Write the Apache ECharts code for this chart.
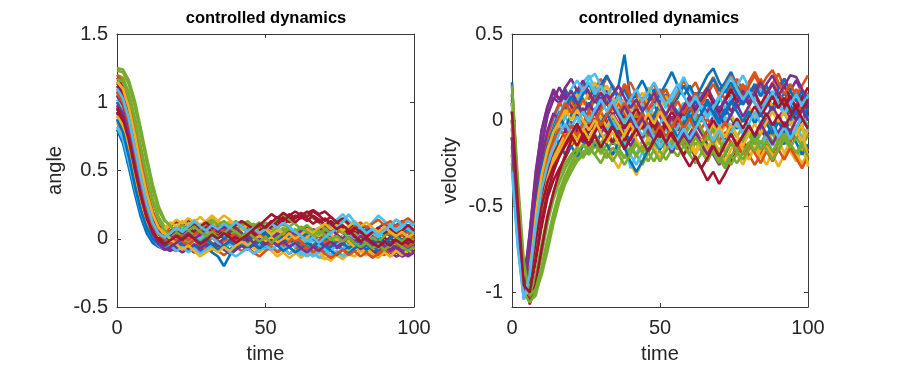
<!DOCTYPE html>
<html><head><meta charset="utf-8">
<script src="https://cdn.jsdelivr.net/npm/echarts@6/dist/echarts.min.js"></script>
<style>html,body{margin:0;padding:0;background:#fff}#c{width:897px;height:369px}</style>
</head><body><div id="c"></div>
<script>
// time samples (every 2 time units)
const timeSteps = [0,2,4,6,8,10,12,14,16,18,20,22,24,26,28,30,32,34,36,38,40,42,44,46,48,50,52,54,56,58,60,62,64,66,68,70,72,74,76,78,80,82,84,86,88,90,92,94,96,98,100];
const xTickValues = [0, 50, 100];
const angleTickValues = [-0.5, 0, 0.5, 1, 1.5];
const velocityTickValues = [-1, -0.5, 0, 0.5];
const panelTitles = ['controlled dynamics', 'controlled dynamics'];
const lineColors = ['#0072BD','#D95319','#EDB120','#7E2F8E','#77AC30','#4DBEEE','#A2142F'];

// angle trajectories
const angleRuns = [
[1.05,0.96,0.79,0.56,0.34,0.16,0.04,-0.02,-0.05,-0.04,-0.06, -0.03,-0.07,-0.05,-0.09,-0.06,-0.1,-0.13,-0.2,-0.12,-0.08, -0.05,-0.07,-0.03,-0.06,-0.02,-0.04,-0.01,-0.05,-0.03,0.0, -0.04,-0.02,-0.06,-0.03,-0.07,-0.05,-0.04,-0.08,-0.05,-0.03, -0.06,-0.04,-0.07,-0.05,-0.08,-0.06,-0.03,-0.05,-0.02,-0.04],
[1.15,1.1,0.97,0.78,0.55,0.33,0.17,0.07,0.02,0.0,0.03, 0.01,-0.02,0.02,0.05,0.01,-0.03,-0.05,-0.02,0.01,-0.01, 0.03,0.0,-0.04,-0.02,0.02,0.04,0.01,-0.02,0.0,0.03, 0.06,0.02,-0.01,0.03,0.05,0.02,-0.02,0.01,-0.03,-0.06, -0.04,-0.08,-0.11,-0.07,-0.1,-0.06,-0.08,-0.04,-0.07,-0.05],
[1.12,1.07,0.93,0.72,0.49,0.28,0.14,0.08,0.05,0.09,0.06, 0.1,0.07,0.11,0.08,0.12,0.16,0.12,0.09,0.11,0.07, 0.1,0.06,0.09,0.05,0.02,0.04,0.0,-0.03,-0.06,-0.1, -0.14,-0.1,-0.12,-0.08,-0.11,-0.07,-0.04,-0.08,-0.05,-0.02, 0.01,-0.02,0.03,0.06,0.02,0.05,0.09,0.06,0.1,0.07],
[0.95,0.87,0.7,0.48,0.27,0.1,0.0,-0.06,-0.08,-0.07,-0.09, -0.06,-0.08,-0.04,-0.06,-0.02,0.01,-0.03,0.0,0.03,0.06, 0.08,0.05,0.1,0.07,0.04,0.07,0.03,0.06,0.02,-0.01, 0.02,-0.02,0.01,-0.03,-0.06,-0.03,-0.07,-0.04,-0.08,-0.05, -0.09,-0.12,-0.08,-0.11,-0.07,-0.1,-0.13,-0.11,-0.08,-0.1],
[1.23,1.22,1.13,0.97,0.77,0.56,0.36,0.21,0.13,0.1,0.12, 0.09,0.13,0.1,0.06,0.09,0.12,0.08,0.11,0.07,0.1, 0.13,0.09,0.11,0.08,0.12,0.09,0.05,0.08,0.04,0.07, 0.03,0.06,0.02,0.05,0.1,0.07,0.11,0.14,0.1,0.07, 0.03,0.0,-0.03,0.01,-0.02,-0.05,-0.01,-0.04,-0.07,-0.05],
[0.9,0.82,0.66,0.46,0.27,0.13,0.05,0.01,-0.02,0.01,-0.01, 0.03,0.0,0.04,0.01,0.05,0.09,0.05,0.02,0.06,0.03, -0.01,0.02,-0.02,0.01,-0.03,0.0,-0.04,-0.07,-0.03,-0.06, -0.02,0.01,-0.02,0.02,0.05,0.1,0.14,0.18,0.13,0.1, 0.06,0.09,0.05,0.02,0.06,0.03,0.07,0.04,0.08,0.05],
[1.08,1.02,0.88,0.67,0.45,0.26,0.13,0.06,0.03,0.05,0.02, 0.04,0.07,0.03,0.06,0.02,0.05,0.08,0.05,0.02,0.04, 0.01,0.04,0.0,0.03,0.06,0.09,0.13,0.1,0.14,0.17, 0.15,0.19,0.21,0.18,0.2,0.16,0.12,0.15,0.11,0.08, 0.1,0.06,0.03,0.06,0.02,0.05,0.01,0.04,0.0,0.02],
[0.8,0.7,0.52,0.33,0.16,0.04,-0.03,-0.06,-0.04,-0.07,-0.05, -0.08,-0.05,-0.09,-0.06,-0.03,-0.06,-0.02,-0.05,-0.08,-0.04, -0.01,-0.04,0.0,0.03,-0.01,0.02,-0.02,0.01,-0.03,-0.01, -0.04,-0.02,-0.05,-0.01,0.02,-0.02,-0.05,-0.08,-0.06,-0.09, -0.06,-0.1,-0.07,-0.05,-0.08,-0.04,-0.06,-0.03,-0.05,-0.02],
[1.0,0.93,0.77,0.56,0.36,0.19,0.08,0.02,-0.01,0.02,-0.02, 0.01,-0.03,-0.01,-0.05,-0.02,0.01,-0.02,-0.06,-0.03,0.0, 0.03,0.0,0.04,0.01,-0.02,0.02,0.05,0.02,0.06,0.03, 0.0,0.03,-0.01,0.02,-0.02,-0.05,-0.01,-0.04,-0.07,-0.04, -0.08,-0.11,-0.13,-0.1,-0.12,-0.08,-0.1,-0.06,-0.09,-0.05],
[0.85,0.77,0.6,0.4,0.22,0.09,0.01,-0.03,-0.01,-0.04,-0.02, 0.01,-0.02,0.02,0.06,0.02,0.05,0.01,0.04,0.0,-0.03, -0.06,-0.03,-0.07,-0.1,-0.06,-0.09,-0.13,-0.1,-0.14,-0.11, -0.08,-0.12,-0.09,-0.13,-0.15,-0.12,-0.09,-0.12,-0.08,-0.05, -0.09,-0.06,-0.03,-0.07,-0.04,-0.01,-0.05,-0.02,0.01,-0.03],
[1.1,1.04,0.9,0.7,0.48,0.29,0.14,0.06,0.03,0.06,0.09, 0.06,0.1,0.07,0.04,0.08,0.05,0.09,0.06,0.1,0.07, 0.11,0.08,0.05,0.08,0.04,0.01,0.04,0.0,0.03,-0.01, 0.02,-0.02,0.01,0.04,0.0,0.03,-0.01,0.02,0.05,0.02, 0.06,0.09,0.05,0.08,0.11,0.07,0.1,0.13,0.09,0.12],
[1.2,1.18,1.07,0.89,0.68,0.47,0.29,0.16,0.09,0.05,0.08, 0.05,0.09,0.12,0.08,0.05,0.08,0.04,0.07,0.1,0.13, 0.09,0.06,0.1,0.07,0.03,0.06,0.02,0.05,0.09,0.12, 0.16,0.19,0.15,0.12,0.08,0.11,0.07,0.04,0.07,0.03, 0.0,-0.03,0.0,-0.04,-0.07,-0.04,-0.08,-0.05,-0.08,-0.06],
[1.02,0.95,0.8,0.6,0.39,0.21,0.09,0.02,-0.02,0.01,0.04, 0.07,0.04,0.08,0.11,0.07,0.04,0.07,0.03,0.0,0.03, -0.01,-0.04,-0.01,-0.05,-0.08,-0.05,-0.09,-0.06,-0.03,-0.06, -0.1,-0.13,-0.1,-0.14,-0.11,-0.08,-0.11,-0.07,-0.04,0.0, 0.04,0.08,0.12,0.17,0.13,0.1,0.14,0.11,0.08,0.12],
[1.18,1.13,1.0,0.8,0.57,0.36,0.2,0.1,0.06,0.09,0.13, 0.1,0.14,0.11,0.08,0.12,0.09,0.06,0.09,0.05,0.08, 0.04,0.01,0.05,0.02,0.06,0.1,0.13,0.16,0.12,0.15, 0.18,0.15,0.11,0.14,0.1,0.13,0.09,0.06,0.09,0.05, 0.02,-0.01,0.02,-0.02,0.01,-0.03,0.0,0.03,-0.01,0.02],
[0.92,0.84,0.67,0.46,0.26,0.11,0.02,-0.03,-0.06,-0.03,-0.06, -0.02,-0.05,-0.01,0.02,-0.02,0.01,0.04,0.0,0.03,-0.01, 0.02,-0.02,-0.05,-0.02,-0.06,-0.03,0.0,-0.04,-0.01,0.02, -0.02,-0.05,-0.08,-0.05,-0.09,-0.06,-0.02,0.01,-0.03,0.0, 0.03,0.07,0.04,0.08,0.05,0.02,0.06,0.03,0.07,0.04],
[0.88,0.8,0.63,0.43,0.25,0.11,0.03,0.0,0.03,0.06,0.02, -0.01,0.02,0.05,0.01,-0.02,0.01,-0.03,-0.06,-0.03,0.0, -0.04,-0.07,-0.04,-0.08,-0.05,-0.02,-0.05,-0.01,0.02,-0.02, 0.01,0.05,0.02,0.06,0.03,0.07,0.04,0.08,0.05,0.09, 0.12,0.08,0.11,0.14,0.1,0.13,0.09,0.12,0.15,0.11],
[1.0,0.94,0.79,0.58,0.37,0.2,0.1,0.05,0.08,0.12,0.09, 0.13,0.1,0.14,0.1,0.13,0.17,0.13,0.1,0.13,0.09, 0.06,0.1,0.07,0.11,0.08,0.05,0.08,0.04,0.01,0.04, 0.0,-0.03,-0.07,-0.1,-0.14,-0.16,-0.12,-0.15,-0.11,-0.13, -0.09,-0.12,-0.08,-0.05,-0.09,-0.06,-0.03,-0.07,-0.04,-0.08],
[1.14,1.08,0.94,0.74,0.52,0.32,0.16,0.04,-0.04,-0.08,-0.07, -0.1,-0.07,-0.1,-0.06,-0.09,-0.05,-0.02,-0.05,-0.01,0.02, -0.02,0.01,-0.03,0.0,0.04,0.01,0.05,0.02,-0.01,0.02, 0.06,0.03,0.07,0.04,0.0,-0.03,0.0,-0.04,-0.01,-0.05, -0.08,-0.05,-0.09,-0.12,-0.09,-0.13,-0.1,-0.13,-0.11,-0.09],
[1.1,1.06,0.93,0.74,0.53,0.33,0.18,0.08,0.03,0.0,-0.02, 0.01,-0.02,0.02,-0.01,0.03,0.0,0.04,0.07,0.03,0.06, 0.02,0.05,0.09,0.05,0.08,0.04,0.08,0.11,0.07,0.04, 0.07,0.03,0.0,0.04,0.01,-0.03,0.0,-0.04,-0.01,0.02, -0.01,-0.05,-0.02,-0.06,-0.09,-0.05,-0.08,-0.04,-0.07,-0.03],
[0.97,0.9,0.74,0.53,0.33,0.17,0.07,0.02,0.05,0.02,0.06, 0.03,0.07,0.04,0.0,0.04,0.01,-0.03,-0.07,-0.04,-0.07, -0.03,-0.06,-0.02,0.01,-0.02,0.02,0.05,0.02,-0.01,0.03, 0.0,-0.04,-0.01,-0.05,-0.08,-0.12,-0.09,-0.13,-0.1,-0.07, -0.03,0.0,0.04,0.08,0.05,0.09,0.14,0.1,0.07,0.11],
[0.93,0.85,0.69,0.49,0.3,0.15,0.06,0.01,-0.02,0.01,0.05, 0.02,0.06,0.1,0.06,0.09,0.05,0.02,0.06,0.03,0.0, 0.03,-0.01,0.02,0.06,0.09,0.13,0.1,0.14,0.18,0.15, 0.19,0.16,0.2,0.17,0.13,0.16,0.12,0.09,0.06,0.03, 0.06,0.02,-0.01,0.02,-0.02,0.01,-0.03,0.0,-0.04,-0.01],
[1.0,0.92,0.74,0.52,0.31,0.14,0.03,-0.04,-0.07,-0.05,-0.08, -0.05,-0.09,-0.06,-0.1,-0.07,-0.04,-0.08,-0.05,-0.02,-0.05, -0.01,0.02,-0.02,0.01,0.04,0.0,0.03,-0.01,0.02,0.05, 0.01,0.04,0.0,-0.03,0.01,-0.02,-0.06,-0.03,-0.07,-0.04, -0.01,-0.05,-0.02,0.01,-0.03,0.0,0.03,-0.01,0.02,0.05],
[1.2,1.15,1.02,0.82,0.59,0.37,0.2,0.09,0.03,-0.01,0.02, -0.02,-0.05,-0.01,-0.04,-0.08,-0.05,-0.09,-0.12,-0.09,-0.06, -0.09,-0.06,-0.1,-0.13,-0.09,-0.06,-0.1,-0.07,-0.11,-0.08, -0.04,-0.08,-0.05,-0.01,-0.04,0.0,0.03,-0.01,0.02,-0.02, 0.01,0.04,0.0,0.03,0.07,0.03,0.06,0.02,0.05,0.01],
[0.9,0.83,0.67,0.47,0.28,0.13,0.05,0.02,0.06,0.1,0.14, 0.11,0.15,0.12,0.16,0.12,0.09,0.13,0.17,0.14,0.1, 0.07,0.11,0.08,0.04,0.07,0.03,0.06,0.02,-0.01,0.02, -0.02,0.01,0.05,0.02,0.06,0.03,-0.01,0.02,-0.02,-0.06, -0.1,-0.07,-0.11,-0.14,-0.1,-0.13,-0.09,-0.12,-0.08,-0.11],
[1.05,0.98,0.82,0.61,0.4,0.21,0.07,-0.02,-0.07,-0.09,-0.06, -0.09,-0.06,-0.1,-0.07,-0.04,-0.08,-0.05,-0.08,-0.11,-0.08, -0.05,-0.08,-0.04,-0.07,-0.03,0.0,0.04,0.01,0.05,0.02, 0.06,0.09,0.05,0.08,0.04,0.07,0.03,0.0,0.04,0.01, -0.03,0.0,-0.04,-0.01,-0.05,-0.08,-0.05,-0.09,-0.06,-0.1],
[1.17,1.15,1.04,0.87,0.66,0.45,0.27,0.14,0.06,0.02,0.05, 0.02,0.06,0.03,0.07,0.11,0.14,0.1,0.13,0.09,0.06, 0.1,0.13,0.09,0.12,0.08,0.11,0.15,0.18,0.14,0.11, 0.07,0.1,0.06,0.03,0.07,0.04,0.08,0.05,0.01,0.04, 0.0,-0.03,0.01,-0.02,0.02,0.05,0.01,-0.02,0.02,-0.01],
[0.82,0.73,0.56,0.37,0.2,0.08,0.0,-0.05,-0.08,-0.05,-0.09, -0.06,-0.1,-0.07,-0.11,-0.08,-0.05,-0.09,-0.06,-0.1,-0.13, -0.1,-0.07,-0.11,-0.08,-0.05,-0.08,-0.04,-0.07,-0.11,-0.08, -0.12,-0.09,-0.13,-0.1,-0.06,-0.09,-0.05,-0.02,0.02,-0.01, 0.03,0.0,0.04,0.01,0.05,0.09,0.06,0.1,0.07,0.04],
[1.12,1.06,0.92,0.72,0.5,0.3,0.15,0.05,0.0,0.03,0.07, 0.04,0.08,0.05,0.09,0.12,0.08,0.05,0.09,0.06,0.1, 0.13,0.1,0.07,0.1,0.14,0.18,0.15,0.19,0.16,0.12, 0.16,0.13,0.17,0.14,0.1,0.07,0.11,0.08,0.04,0.08, 0.05,0.01,0.05,0.08,0.04,0.07,0.03,0.06,0.1,0.06],
[0.87,0.78,0.6,0.39,0.21,0.08,0.0,-0.04,-0.02,0.01,-0.02, 0.01,0.04,0.0,-0.03,0.0,-0.04,-0.08,-0.05,-0.09,-0.06, -0.02,-0.06,-0.03,-0.07,-0.04,-0.01,-0.05,-0.09,-0.06,-0.1, -0.07,-0.03,-0.06,-0.02,-0.05,-0.09,-0.12,-0.08,-0.11,-0.07, -0.04,-0.08,-0.05,-0.09,-0.06,-0.03,-0.07,-0.04,-0.08,-0.05],
[1.07,1.0,0.85,0.64,0.42,0.23,0.1,0.03,0.0,-0.04,-0.01, 0.03,-0.01,0.03,0.06,0.02,0.05,0.09,0.05,0.01,0.04, 0.0,0.04,0.07,0.03,0.0,-0.04,-0.01,-0.05,-0.02,0.02, -0.02,-0.06,-0.1,-0.07,-0.11,-0.14,-0.11,-0.08,-0.12,-0.09, -0.13,-0.1,-0.14,-0.11,-0.07,-0.1,-0.06,-0.03,-0.06,-0.02],
[1.15,1.1,0.96,0.76,0.53,0.33,0.18,0.08,0.04,0.0,-0.04, -0.08,-0.05,-0.09,-0.13,-0.1,-0.07,-0.1,-0.06,-0.09,-0.05, -0.02,-0.05,-0.01,0.02,-0.02,0.01,-0.03,0.0,0.04,0.0, 0.03,0.07,0.04,0.08,0.11,0.07,0.1,0.06,0.09,0.13, 0.09,0.12,0.08,0.05,0.09,0.05,0.02,0.05,0.01,0.04],
[0.98,0.91,0.75,0.54,0.33,0.16,0.04,-0.04,-0.08,-0.06,-0.03, 0.0,0.04,0.0,0.03,0.07,0.1,0.06,0.09,0.05,0.08, 0.04,0.01,-0.03,0.0,-0.04,-0.01,-0.05,-0.02,-0.06,-0.03, -0.07,-0.1,-0.06,-0.09,-0.05,-0.02,-0.06,-0.03,0.01,-0.02, 0.02,-0.01,-0.05,-0.02,-0.06,-0.09,-0.06,-0.1,-0.13,-0.1],
[1.25,1.24,1.16,1.01,0.81,0.6,0.4,0.24,0.14,0.09,0.06, 0.1,0.06,0.09,0.05,0.02,0.05,0.01,0.04,0.08,0.05, 0.02,0.05,0.01,-0.02,0.01,-0.03,0.01,0.04,0.08,0.05, 0.09,0.05,0.02,0.06,0.03,-0.01,0.02,-0.02,0.01,-0.03, -0.06,-0.03,-0.07,-0.04,-0.08,-0.05,-0.02,-0.06,-0.09,-0.06],
[1.1,1.03,0.88,0.67,0.45,0.26,0.12,0.04,0.01,0.04,0.08, 0.05,0.09,0.13,0.09,0.06,0.1,0.07,0.11,0.08,0.12, 0.09,0.05,0.08,0.04,0.07,0.11,0.08,0.12,0.09,0.05, 0.02,-0.02,0.01,-0.03,0.01,0.04,0.08,0.12,0.18,0.12, 0.08,0.04,0.07,0.03,0.06,0.1,0.06,0.09,0.13,0.1],
[0.96,0.88,0.72,0.51,0.31,0.15,0.05,-0.01,-0.04,-0.01,0.02, -0.01,0.03,0.0,-0.04,-0.01,0.03,0.0,0.04,0.01,-0.03, 0.0,0.03,0.07,0.11,0.08,0.12,0.16,0.13,0.17,0.2, 0.17,0.2,0.16,0.12,0.15,0.11,0.07,0.1,0.06,0.02, -0.02,0.01,-0.03,-0.06,-0.02,-0.05,-0.01,-0.04,0.0,-0.03]
];

// velocity trajectories
const velocityRuns = [
[0.22,-0.45,-0.92,-0.85,-0.55,-0.3,-0.12,-0.02,0.05,0.02,0.08, 0.05,0.12,0.08,0.15,0.1,0.17,0.14,0.2,0.38,0.12, 0.14,0.07,0.12,0.18,0.1,0.15,0.08,0.13,0.2,0.14, 0.1,0.16,0.09,0.05,0.11,0.18,0.13,0.07,0.12,0.17, 0.1,0.05,0.12,0.08,0.15,0.1,0.04,0.09,0.14,0.08],
[0.05,-0.5,-0.95,-0.95,-0.7,-0.45,-0.28,-0.15,-0.05,0.02,0.08, 0.14,0.2,0.12,0.18,0.24,0.15,0.2,0.12,0.17,0.22, 0.15,0.09,0.16,0.21,0.13,0.18,0.1,0.16,0.23,0.17, 0.22,0.14,0.19,0.25,0.18,0.12,0.2,0.15,0.21,0.13, 0.18,0.24,0.16,0.21,0.27,0.19,0.13,0.18,0.12,0.16],
[-0.1,-0.62,-1.0,-0.88,-0.62,-0.4,-0.25,-0.18,-0.12,-0.15,-0.1, -0.16,-0.1,-0.18,-0.12,-0.2,-0.14,-0.22,-0.28,-0.2,-0.25, -0.32,-0.24,-0.18,-0.1,-0.16,-0.08,-0.14,-0.05,-0.12,-0.18, -0.1,-0.16,-0.22,-0.15,-0.09,-0.17,-0.12,-0.2,-0.26,-0.18, -0.12,-0.19,-0.13,-0.07,-0.15,-0.1,-0.18,-0.24,-0.17,-0.25],
[0.0,-0.58,-0.98,-0.66,-0.32,-0.06,0.08,0.16,0.12,0.18,0.1, 0.16,0.22,0.14,0.19,0.12,0.17,0.1,0.15,0.08,0.13, 0.06,0.11,0.04,0.09,0.02,-0.05,0.01,-0.06,0.0,0.05, -0.02,0.04,-0.04,0.02,0.08,0.03,0.1,0.15,0.09,0.14, 0.2,0.14,0.21,0.26,0.19,0.24,0.17,0.23,0.16,0.1],
[0.15,-0.4,-0.85,-1.05,-1.02,-0.88,-0.72,-0.56,-0.43,-0.34,-0.27, -0.22,-0.18,-0.2,-0.15,-0.19,-0.14,-0.2,-0.16,-0.22,-0.17, -0.12,-0.18,-0.24,-0.17,-0.11,-0.16,-0.1,-0.15,-0.21,-0.14, -0.08,-0.13,-0.06,-0.12,-0.18,-0.11,-0.05,-0.1,-0.03,-0.09, -0.14,-0.08,-0.02,-0.07,-0.12,-0.05,-0.1,-0.04,0.02,-0.03],
[-0.05,-0.55,-0.96,-0.82,-0.5,-0.25,-0.1,0.0,0.08,0.15,0.1, 0.17,0.22,0.26,0.18,0.14,0.2,0.12,0.06,-0.08,-0.28, -0.2,-0.12,-0.05,-0.1,-0.02,0.04,-0.03,0.05,0.1,0.03, 0.08,0.15,0.09,0.02,0.07,-0.02,0.04,-0.05,0.01,0.06, 0.0,0.07,0.13,0.06,0.11,0.04,-0.03,0.03,-0.04,0.02],
[-0.2,-0.7,-1.02,-1.0,-0.82,-0.62,-0.45,-0.35,-0.28,-0.22,-0.15, -0.1,-0.05,-0.11,-0.06,0.0,-0.07,-0.02,-0.08,-0.03,0.03, -0.04,-0.1,-0.06,0.0,-0.07,-0.13,-0.08,-0.15,-0.2,-0.14, -0.22,-0.28,-0.35,-0.3,-0.37,-0.31,-0.24,-0.18,-0.12,-0.17, -0.1,-0.05,-0.11,-0.04,0.02,-0.05,0.01,-0.06,0.0,0.05],
[0.1,-0.48,-0.9,-0.7,-0.42,-0.2,-0.08,0.02,0.1,0.16,0.12, 0.18,0.12,0.07,0.13,0.05,0.1,0.03,0.08,0.0,0.06, -0.02,0.05,-0.04,0.03,0.09,0.02,-0.05,0.01,0.07,0.0, 0.06,0.13,0.18,0.24,0.17,0.22,0.28,0.2,0.14,0.19, 0.12,0.18,0.11,0.05,0.1,0.16,0.09,0.03,0.08,0.02],
[-0.15,-0.65,-1.02,-0.92,-0.68,-0.46,-0.33,-0.24,-0.16,-0.1,-0.04, 0.03,-0.03,0.05,0.12,0.18,0.25,0.2,0.14,0.21,0.15, 0.08,0.13,0.06,0.0,0.07,0.01,-0.06,0.0,-0.07,-0.02, 0.05,-0.01,0.06,0.12,0.05,0.11,0.18,0.24,0.17,0.22, 0.28,0.21,0.15,0.22,0.16,0.1,0.17,0.11,0.05,0.12],
[0.0,-0.52,-0.95,-0.78,-0.5,-0.3,-0.18,-0.1,-0.04,0.03,0.09, 0.15,0.09,0.16,0.22,0.15,0.2,0.13,0.07,0.12,0.05, 0.1,0.16,0.09,0.03,0.08,0.14,0.06,0.0,0.05,-0.03, 0.02,-0.06,-0.12,-0.06,-0.14,-0.08,-0.02,-0.09,-0.15,-0.22, -0.15,-0.2,-0.26,-0.18,-0.12,-0.19,-0.13,-0.2,-0.25,-0.2],
[-0.05,-0.6,-1.0,-0.74,-0.42,-0.15,0.03,0.13,0.1,0.15,0.08, 0.02,0.07,0.0,-0.06,-0.01,-0.08,-0.14,-0.08,-0.15,-0.1, -0.04,-0.1,-0.03,0.03,-0.04,-0.1,-0.16,-0.09,-0.15,-0.08, -0.02,-0.08,-0.14,-0.2,-0.26,-0.2,-0.13,-0.19,-0.12,-0.06, -0.12,-0.05,0.01,-0.06,0.0,0.07,0.01,0.08,0.14,0.08],
[-0.1,-0.6,-0.98,-1.06,-0.95,-0.78,-0.6,-0.46,-0.36,-0.28,-0.22, -0.18,-0.22,-0.16,-0.2,-0.25,-0.18,-0.12,-0.17,-0.1,-0.15, -0.2,-0.26,-0.19,-0.24,-0.17,-0.11,-0.16,-0.09,-0.14,-0.2, -0.13,-0.18,-0.24,-0.17,-0.22,-0.28,-0.21,-0.15,-0.2,-0.14, -0.08,-0.14,-0.07,-0.12,-0.18,-0.11,-0.05,-0.11,-0.04,-0.09],
[0.08,-0.46,-0.9,-0.88,-0.62,-0.38,-0.2,-0.08,0.02,0.1,0.17, 0.11,0.18,0.24,0.27,0.2,0.14,0.19,0.12,0.17,0.1, 0.04,0.1,0.03,0.08,0.14,0.07,0.12,0.18,0.25,0.18, 0.12,0.05,0.1,0.03,-0.04,0.02,-0.05,0.0,-0.08,-0.02, -0.1,-0.16,-0.09,-0.15,-0.08,-0.02,-0.09,-0.03,-0.1,-0.05],
[0.0,-0.55,-0.97,-0.9,-0.66,-0.44,-0.3,-0.2,-0.13,-0.06,-0.1, -0.04,-0.09,-0.02,-0.07,0.0,-0.05,0.02,-0.04,0.03,-0.02, 0.04,-0.02,-0.08,-0.03,-0.09,-0.04,0.02,-0.04,0.03,0.09, 0.03,0.1,0.16,0.1,0.04,0.11,0.17,0.1,0.15,0.09, 0.15,0.21,0.14,0.08,0.14,0.2,0.13,0.07,0.12,0.06],
[-0.25,-0.72,-1.04,-0.85,-0.55,-0.32,-0.18,-0.08,-0.14,-0.2,-0.15, -0.21,-0.15,-0.09,-0.15,-0.08,-0.14,-0.2,-0.13,-0.07,-0.12, -0.05,0.02,-0.04,0.03,0.09,0.03,0.1,0.04,-0.02,0.05, 0.11,0.05,0.12,0.06,0.0,0.07,0.01,-0.05,0.02,-0.04, -0.1,-0.03,-0.09,-0.02,-0.08,-0.14,-0.07,-0.13,-0.2,-0.14],
[0.12,-0.42,-0.88,-0.8,-0.5,-0.26,-0.1,0.02,0.1,0.06,0.12, 0.06,0.12,0.05,-0.01,0.05,-0.02,0.04,0.1,0.04,-0.02, 0.04,-0.03,-0.09,-0.04,-0.1,-0.05,0.01,-0.05,0.02,0.08, 0.02,-0.05,0.01,-0.06,-0.12,-0.07,-0.13,-0.2,-0.14,-0.2, -0.26,-0.2,-0.14,-0.2,-0.13,-0.07,-0.13,-0.06,-0.12,-0.18],
[-0.05,-0.58,-0.98,-0.95,-0.72,-0.5,-0.34,-0.22,-0.15,-0.08,-0.14, -0.08,-0.02,0.04,-0.02,0.05,0.11,0.05,0.12,0.06,0.0, 0.06,0.12,0.19,0.13,0.07,0.13,0.06,0.0,-0.06,0.0, -0.07,-0.13,-0.08,-0.02,-0.09,-0.03,0.03,-0.04,0.02,0.08, 0.02,0.09,0.15,0.08,0.02,-0.05,0.01,-0.06,-0.12,-0.06],
[0.05,-0.5,-0.94,-0.75,-0.45,-0.22,-0.06,0.04,0.0,-0.06,-0.01, -0.07,-0.13,-0.07,-0.01,-0.08,-0.02,0.04,-0.02,-0.08,-0.15, -0.09,-0.03,-0.1,-0.16,-0.1,-0.04,0.02,-0.04,0.03,0.09, 0.16,0.1,0.04,0.1,0.03,-0.03,0.03,0.09,0.02,0.08, 0.14,0.08,0.02,0.08,0.01,0.07,0.13,0.06,0.12,0.05],
[0.0,-0.52,-0.95,-1.03,-0.9,-0.72,-0.55,-0.42,-0.32,-0.25,-0.2, -0.16,-0.2,-0.14,-0.08,-0.14,-0.07,-0.12,-0.05,0.01,-0.05, 0.02,-0.04,-0.11,-0.05,-0.12,-0.18,-0.11,-0.17,-0.1,-0.04, 0.02,-0.05,-0.11,-0.05,-0.12,-0.19,-0.26,-0.19,-0.12,-0.06, -0.13,-0.07,-0.01,-0.08,-0.14,-0.08,-0.15,-0.21,-0.15,-0.09],
[-0.15,-0.64,-1.0,-0.86,-0.58,-0.36,-0.22,-0.12,-0.05,0.02,-0.04, 0.02,-0.05,0.01,0.07,0.0,-0.06,0.0,-0.07,-0.13,-0.2, -0.26,-0.19,-0.12,-0.18,-0.11,-0.05,-0.11,-0.04,0.02,-0.04, 0.03,0.09,0.02,0.08,0.14,0.07,0.13,0.2,0.26,0.19, 0.12,0.18,0.11,0.17,0.1,0.04,0.1,0.16,0.09,0.15],
[0.1,-0.45,-0.9,-1.07,-0.95,-0.75,-0.56,-0.42,-0.3,-0.2,-0.12, -0.06,-0.12,-0.05,0.01,-0.05,0.02,0.08,0.02,-0.05,0.01, 0.07,0.01,-0.06,0.0,-0.07,-0.01,0.05,-0.01,0.06,0.12, 0.06,0.12,0.18,0.11,0.05,0.12,0.18,0.11,0.17,0.1, 0.16,0.09,0.15,0.21,0.14,0.08,0.14,0.07,0.13,0.19],
[0.15,-0.47,-0.93,-0.9,-0.62,-0.37,-0.2,-0.08,0.0,0.07,0.14, 0.08,0.15,0.21,0.14,0.2,0.26,0.19,0.13,0.18,0.11, 0.17,0.23,0.16,0.1,0.15,0.21,0.28,0.2,0.14,0.2, 0.13,0.19,0.26,0.3,0.22,0.16,0.22,0.15,0.09,0.15, 0.21,0.14,0.2,0.12,0.18,0.24,0.17,0.11,0.17,0.1],
[0.0,-0.56,-0.98,-0.86,-0.58,-0.35,-0.2,-0.12,-0.05,-0.1,-0.03, -0.09,-0.02,0.05,-0.01,0.06,0.13,0.07,0.14,0.2,0.13, 0.07,0.13,0.06,0.12,0.18,0.11,0.05,0.11,0.04,0.1, 0.16,0.09,0.15,0.21,0.14,0.2,0.26,0.19,0.13,0.2, 0.26,0.19,0.25,0.29,0.22,0.15,0.21,0.14,0.2,0.26],
[-0.2,-0.68,-1.03,-0.98,-0.74,-0.52,-0.36,-0.25,-0.18,-0.12,-0.06, -0.12,-0.05,-0.11,-0.04,0.02,-0.04,0.03,-0.03,-0.1,-0.04, -0.11,-0.17,-0.1,-0.16,-0.22,-0.15,-0.09,-0.15,-0.08,-0.14, -0.2,-0.13,-0.19,-0.12,-0.18,-0.24,-0.17,-0.11,-0.17,-0.23, -0.16,-0.22,-0.15,-0.2,-0.27,-0.2,-0.14,-0.2,-0.26,-0.19],
[0.1,-0.5,-0.95,-0.65,-0.3,-0.06,0.08,0.18,0.12,0.19,0.24, 0.17,0.23,0.16,0.1,0.16,0.09,0.15,0.2,0.13,0.07, 0.12,0.05,0.1,0.16,0.09,0.03,0.09,0.02,0.08,0.14, 0.07,0.13,0.19,0.12,0.06,0.12,0.05,0.11,0.17,0.1, 0.16,0.22,0.15,0.21,0.14,0.2,0.26,0.25,0.18,0.12],
[-0.2,-0.7,-1.0,-1.06,-1.0,-0.9,-0.76,-0.6,-0.47,-0.37,-0.3, -0.24,-0.2,-0.16,-0.2,-0.14,-0.19,-0.24,-0.18,-0.22,-0.16, -0.21,-0.15,-0.19,-0.13,-0.18,-0.23,-0.17,-0.21,-0.15,-0.2, -0.25,-0.19,-0.14,-0.19,-0.25,-0.19,-0.13,-0.18,-0.23,-0.17, -0.11,-0.17,-0.12,-0.18,-0.13,-0.08,-0.14,-0.19,-0.13,-0.18],
[0.05,-0.5,-0.94,-0.84,-0.56,-0.33,-0.17,-0.06,0.03,0.11,0.18, 0.23,0.17,0.22,0.15,0.2,0.14,0.08,0.14,0.07,0.12, 0.18,0.11,0.16,0.22,0.15,0.09,0.15,0.21,0.14,0.08, 0.14,0.07,0.01,0.07,0.13,0.19,0.25,0.18,0.12,0.17, 0.1,0.04,0.1,0.16,0.09,0.03,0.09,0.15,0.08,0.14],
[-0.1,-0.62,-1.0,-0.93,-0.7,-0.5,-0.36,-0.27,-0.21,-0.15,-0.09, -0.15,-0.08,-0.14,-0.07,-0.01,-0.07,-0.13,-0.06,-0.12,-0.05, 0.01,-0.05,0.02,-0.04,-0.1,-0.03,-0.09,-0.15,-0.08,-0.14, -0.07,-0.13,-0.06,0.0,-0.06,-0.12,-0.05,0.01,-0.05,0.02, 0.08,0.02,0.08,0.14,0.07,0.13,0.06,0.0,0.06,0.12],
[-0.1,-0.6,-0.99,-0.8,-0.5,-0.28,-0.15,-0.06,0.02,-0.04,0.03, 0.09,0.03,0.1,0.04,-0.02,0.04,-0.03,-0.09,-0.16,-0.24, -0.3,-0.24,-0.17,-0.11,-0.17,-0.1,-0.04,-0.1,-0.03,0.03, -0.03,0.04,0.1,0.04,-0.02,0.05,0.11,0.05,-0.01,0.05, -0.02,0.04,-0.02,-0.08,-0.01,-0.07,0.0,0.06,0.0,0.07],
[0.2,-0.4,-0.87,-0.86,-0.6,-0.36,-0.19,-0.07,0.02,0.1,0.04, 0.1,0.04,-0.02,0.04,-0.03,0.03,0.09,0.03,0.1,0.04, -0.02,0.04,-0.03,-0.09,-0.03,-0.1,-0.04,0.02,-0.05,0.01, -0.06,-0.12,-0.06,-0.13,-0.07,-0.01,-0.08,-0.14,-0.2,-0.13, -0.19,-0.25,-0.18,-0.24,-0.17,-0.23,-0.16,-0.22,-0.28,-0.21],
[0.1,-0.45,-0.9,-0.82,-0.54,-0.32,-0.17,-0.07,-0.01,0.06,0.0, 0.06,0.0,-0.06,0.0,-0.07,-0.13,-0.07,-0.14,-0.08,-0.02, -0.08,-0.02,0.04,-0.02,0.05,-0.01,-0.07,-0.13,-0.06,-0.12, -0.18,-0.11,-0.17,-0.1,-0.04,-0.1,-0.03,-0.09,-0.15,-0.08, -0.02,-0.08,-0.01,0.05,-0.01,0.05,-0.02,-0.08,-0.02,-0.27],
[-0.1,-0.62,-1.0,-0.75,-0.42,-0.15,0.03,0.12,0.19,0.12,0.17, 0.1,0.04,0.1,0.03,0.09,0.15,0.08,0.02,0.08,0.01, -0.05,0.01,-0.06,-0.12,-0.06,-0.13,-0.19,-0.13,-0.07,-0.13, -0.07,-0.14,-0.2,-0.14,-0.21,-0.14,-0.08,-0.15,-0.09,-0.03, -0.09,-0.02,-0.08,-0.14,-0.07,-0.01,-0.07,0.0,0.06,0.0],
[0.2,-0.35,-0.82,-1.02,-0.98,-0.85,-0.69,-0.54,-0.41,-0.32,-0.25, -0.19,-0.14,-0.19,-0.12,-0.17,-0.22,-0.16,-0.2,-0.26,-0.2, -0.14,-0.19,-0.13,-0.18,-0.24,-0.18,-0.12,-0.17,-0.11,-0.16, -0.1,-0.15,-0.09,-0.14,-0.2,-0.26,-0.2,-0.25,-0.19,-0.13, -0.18,-0.12,-0.17,-0.23,-0.17,-0.11,-0.16,-0.1,-0.15,-0.21],
[-0.3,-0.75,-1.04,-0.9,-0.62,-0.4,-0.26,-0.16,-0.08,-0.02,-0.08, -0.02,0.05,-0.01,0.06,0.12,0.05,0.11,0.04,-0.02,0.04, -0.03,-0.09,-0.03,-0.1,-0.16,-0.1,-0.17,-0.11,-0.05,-0.11, -0.05,0.02,-0.05,-0.12,-0.06,-0.13,-0.07,-0.01,-0.08,-0.02, 0.05,-0.02,0.04,-0.03,-0.1,-0.04,-0.11,-0.05,0.02,-0.05],
[0.05,-0.5,-0.96,-1.0,-0.8,-0.58,-0.42,-0.3,-0.21,-0.14,-0.08, -0.02,-0.09,-0.15,-0.09,-0.16,-0.1,-0.04,-0.1,-0.17,-0.11, -0.05,-0.12,-0.18,-0.12,-0.06,-0.13,-0.07,-0.14,-0.21,-0.27, -0.21,-0.28,-0.22,-0.15,-0.21,-0.14,-0.08,-0.15,-0.09,-0.03, -0.09,-0.02,0.04,-0.03,0.03,-0.04,0.02,0.08,0.01,-0.05]
];

const FONT = '"Liberation Sans", Arial, Helvetica, sans-serif';
const TXT = '#262626';
const AX = '#3a3a3a';

function pairs(run) {
  const out = [];
  for (let j = 0; j < run.length && j < timeSteps.length; j++) out.push([timeSteps[j], run[j]]);
  return out;
}

function xAxes(gi) {
  const base = {
    gridIndex: gi, type: 'value', min: 0, max: 100, interval: 50,
    axisLine: { onZero: false, lineStyle: { color: AX, width: 1 } },
    axisTick: { inside: true, length: 4, lineStyle: { color: AX, width: 1 }, customValues: xTickValues },
    splitLine: { show: false }
  };
  return [
    Object.assign({}, base, {
      position: 'bottom',
      axisLabel: { fontSize: 20, color: TXT, fontFamily: FONT, margin: 11, customValues: xTickValues },
      name: 'time', nameLocation: 'middle', nameGap: 37,
      nameTextStyle: { fontSize: 20, color: TXT, fontFamily: FONT }
    }),
    Object.assign({}, base, { position: 'top', axisLabel: { show: false } })
  ];
}

function yAxes(gi, mn, mx, ticks, name) {
  const base = {
    gridIndex: gi, type: 'value', min: mn, max: mx,
    axisLine: { onZero: false, lineStyle: { color: AX, width: 1 } },
    axisTick: { inside: true, length: 4, lineStyle: { color: AX, width: 1 }, customValues: ticks },
    splitLine: { show: false }
  };
  return [
    Object.assign({}, base, {
      position: 'left',
      axisLabel: { fontSize: 20, color: TXT, fontFamily: FONT, margin: 9, customValues: ticks },
      name: name, nameLocation: 'middle', nameGap: 52, nameRotate: 90,
      nameTextStyle: { fontSize: 20, color: TXT, fontFamily: FONT }
    }),
    Object.assign({}, base, { position: 'right', axisLabel: { show: false, customValues: ticks } })
  ];
}

const series = [];
angleRuns.forEach((run, i) => series.push({
  type: 'line', xAxisIndex: 0, yAxisIndex: 0, data: pairs(run), showSymbol: false, symbol: 'none',
  lineStyle: { width: 2.6, color: lineColors[i % 7] }, itemStyle: { color: lineColors[i % 7] },
  silent: true, clip: true, emphasis: { disabled: true }
}));
velocityRuns.forEach((run, i) => series.push({
  type: 'line', xAxisIndex: 2, yAxisIndex: 2, data: pairs(run), showSymbol: false, symbol: 'none',
  lineStyle: { width: 2.6, color: lineColors[i % 7] }, itemStyle: { color: lineColors[i % 7] },
  silent: true, clip: true, emphasis: { disabled: true }
}));

const option = {
  animation: false,
  backgroundColor: '#fff',
  title: [
    { text: panelTitles[0], left: 261, top: 5, textAlign: 'center',
      textStyle: { fontSize: 16.5, fontWeight: 'bold', color: '#000', fontFamily: FONT } },
    { text: panelTitles[1], left: 654, top: 5, textAlign: 'center',
      textStyle: { fontSize: 16.5, fontWeight: 'bold', color: '#000', fontFamily: FONT } }
  ],
  grid: [
    { left: 117, top: 34, width: 297, height: 274 },
    { left: 512, top: 34, width: 296, height: 274 }
  ],
  xAxis: xAxes(0).concat(xAxes(1)),
  yAxis: yAxes(0, -0.5, 1.5, angleTickValues, 'angle').concat(yAxes(1, -1.085, 0.5, velocityTickValues, 'velocity')),
  series: series
};

const chart = echarts.init(document.getElementById('c'), null, { renderer: 'canvas' });
chart.setOption(option);
</script>
</body></html>
